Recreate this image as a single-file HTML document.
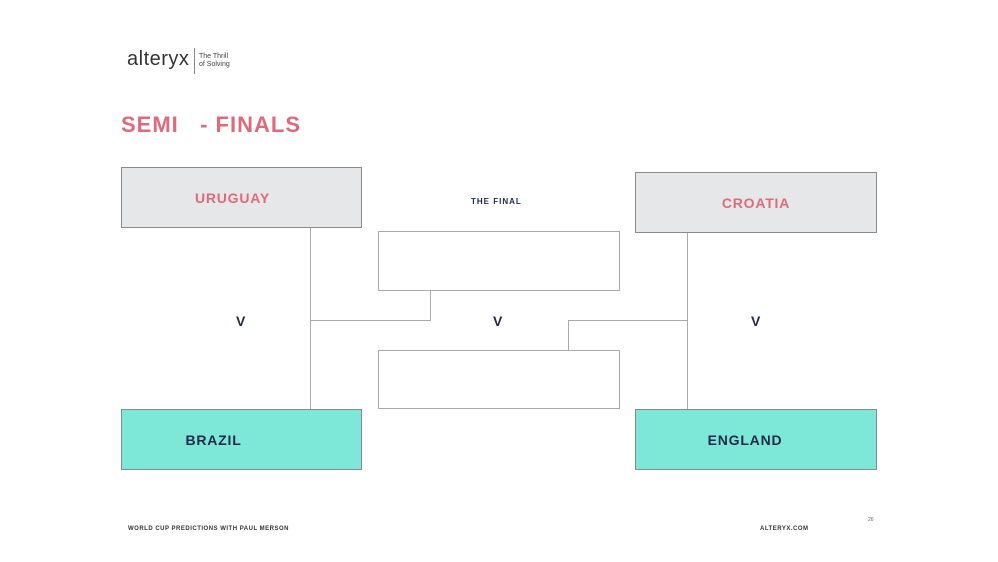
<!DOCTYPE html>
<html><head><meta charset="utf-8"><style>
html,body{margin:0;padding:0;}
body{width:998px;height:562px;position:relative;background:#fff;font-family:"Liberation Sans",sans-serif;overflow:hidden;}
.a{position:absolute;}
.box{position:absolute;box-sizing:border-box;border:1px solid #8a8a8a;display:flex;align-items:center;justify-content:center;font-weight:bold;letter-spacing:0.8px;font-size:14px;}
.g{background:#e6e7e9;color:#e06a7a;}
.t{background:#7de8d8;color:#1e2a4a;}
.w{background:#fff;border-color:#aaa;}
.h{position:absolute;height:1px;background:#aaa;}
.v{position:absolute;width:1px;background:#aaa;}
.vs{position:absolute;font-weight:bold;color:#1e2a4a;font-size:14px;}
</style></head><body>
<div class="a" style="left:127px;top:48px;font-size:20px;color:#333;letter-spacing:0.5px;">alteryx</div>
<div class="a" style="left:194px;top:48px;width:1px;height:26px;background:#888;"></div>
<div class="a" style="left:199px;top:53px;font-size:7px;line-height:8px;color:#444;">The Thrill<br>of Solving</div>
<div class="a" style="left:121px;top:112px;font-size:22px;font-weight:bold;color:#e06a7a;letter-spacing:1px;white-space:pre;">SEMI   - FINALS</div>

<div class="box g" style="left:121px;top:167px;width:241px;height:61px;"><span style="margin-right:18px">URUGUAY</span></div>
<div class="box g" style="left:635px;top:172px;width:242px;height:61px;">CROATIA</div>
<div class="box t" style="left:121px;top:409px;width:241px;height:61px;"><span style="margin-right:56px">BRAZIL</span></div>
<div class="box t" style="left:635px;top:409px;width:242px;height:61px;"><span style="margin-right:22px">ENGLAND</span></div>
<div class="box w" style="left:378px;top:231px;width:242px;height:60px;"></div>
<div class="box w" style="left:378px;top:350px;width:242px;height:59px;"></div>

<div class="a" style="left:471px;top:197px;font-size:8px;font-weight:bold;color:#1e2a4a;letter-spacing:1px;">THE FINAL</div>

<div class="v" style="left:310px;top:228px;height:181px;"></div>
<div class="h" style="left:310px;top:320px;width:120px;"></div>
<div class="v" style="left:430px;top:291px;height:30px;"></div>
<div class="v" style="left:687px;top:233px;height:176px;"></div>
<div class="h" style="left:568px;top:320px;width:120px;"></div>
<div class="v" style="left:568px;top:320px;height:30px;"></div>

<div class="vs" style="left:236px;top:313px;">V</div>
<div class="vs" style="left:493px;top:313px;">V</div>
<div class="vs" style="left:751px;top:313px;">V</div>

<div class="a" style="left:128px;top:526px;font-size:6px;font-weight:bold;color:#333;letter-spacing:0.5px;">WORLD CUP PREDICTIONS WITH PAUL MERSON</div>
<div class="a" style="left:760px;top:526px;font-size:6px;font-weight:bold;color:#333;letter-spacing:0.5px;">ALTERYX.COM</div>
<div class="a" style="left:868px;top:517px;font-size:5px;color:#666;">26</div>
</body></html>
